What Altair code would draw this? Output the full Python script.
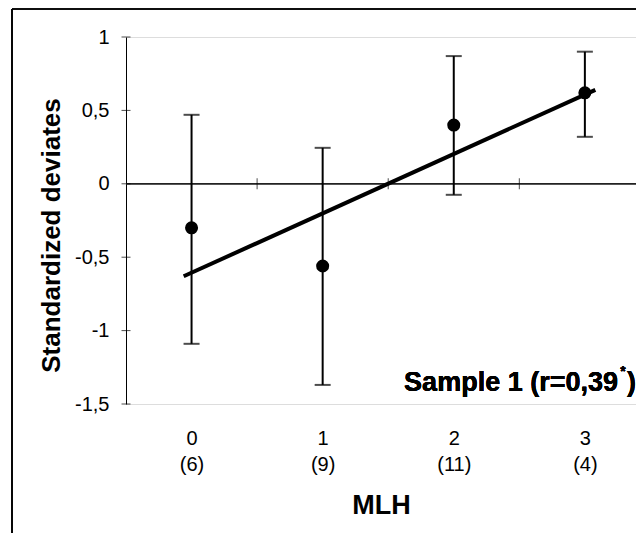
import altair as alt
import pandas as pd

# Data
mlh = [0, 1, 2, 3]
n_labels = ["(6)", "(9)", "(11)", "(4)"]
means = [-0.30, -0.56, 0.40, 0.62]
lower = [-1.09, -1.37, -0.075, 0.32]
upper = [0.47, 0.245, 0.87, 0.90]

reg_x = [-0.06, 3.08]
reg_y = [-0.63, 0.64]

y_ticks = [1, 0.5, 0, -0.5, -1, -1.5]
x_minor_ticks = [0.5, 1.5, 2.5]

X_DOMAIN = [-0.5, 3.39]
Y_DOMAIN = [-1.5, 1]
FONT = "Liberation Sans"

df = pd.DataFrame({"mlh": mlh, "mean": means, "lo": lower, "hi": upper, "n": n_labels})
reg = pd.DataFrame({"x": reg_x, "y": reg_y})
yt = pd.DataFrame({"x": [X_DOMAIN[0]] * len(y_ticks), "y": y_ticks})
xt = pd.DataFrame({"x": x_minor_ticks, "y": [0] * len(x_minor_ticks)})

n_js = "[" + ",".join("'%s'" % s for s in n_labels) + "]"

xscale = alt.Scale(domain=X_DOMAIN, nice=False, zero=False)
yscale = alt.Scale(domain=Y_DOMAIN, nice=False, zero=False)

x_axis = alt.Axis(
    values=mlh, domain=False, ticks=False, grid=False,
    labelExpr="[toString(datum.value), " + n_js + "[datum.value]]",
    labelFontSize=20, labelFont=FONT, labelColor="black", labelPadding=24,
    labelLineHeight=26,
    title="MLH", titleFont=FONT, titleFontSize=27, titleFontWeight="bold",
    titleColor="black", titlePadding=18,
)
y_axis = alt.Axis(
    values=y_ticks, ticks=False, grid=False, domainColor="black", domainWidth=1,
    labelExpr="replace(toString(datum.value), '.', ',')",
    labelFontSize=20, labelFont=FONT, labelColor="black", labelPadding=17,
    title="Standardized deviates", titleFont=FONT, titleFontSize=26,
    titleFontWeight="bold", titleColor="black", titlePadding=10, titleY=198,
)

base = alt.Chart(df)

points = base.mark_point(filled=True, color="black", size=170, opacity=1).encode(
    x=alt.X("mlh:Q", scale=xscale, axis=x_axis),
    y=alt.Y("mean:Q", scale=yscale, axis=y_axis),
)
bars = base.mark_rule(color="black", strokeWidth=2).encode(
    x="mlh:Q", y="lo:Q", y2="hi:Q"
)
cap_lo = base.mark_tick(color="black", orient="horizontal", size=16, thickness=2).encode(
    x="mlh:Q", y="lo:Q"
)
cap_hi = base.mark_tick(color="black", orient="horizontal", size=16, thickness=2).encode(
    x="mlh:Q", y="hi:Q"
)
zero_line = alt.Chart(df).mark_rule(color="#222222", strokeWidth=1).encode(
    y=alt.datum(0)
)
x_minor = alt.Chart(xt).mark_tick(color="black", orient="vertical", size=11, thickness=1).encode(
    x="x:Q", y="y:Q"
)
y_minor = alt.Chart(yt).mark_tick(color="black", orient="horizontal", size=9, thickness=1).encode(
    x="x:Q", y="y:Q"
)
line = alt.Chart(reg).mark_line(color="black", strokeWidth=4).encode(
    x="x:Q", y="y:Q"
)

txt_main = alt.Chart(df).mark_text(
    text="Sample 1 (r=0,39", font=FONT, fontSize=27, fontWeight="bold",
    align="right", baseline="middle", color="black",
).encode(x=alt.value(492), y=alt.value(346))
txt_star = alt.Chart(df).mark_text(
    text="*", font=FONT, fontSize=14, fontWeight="bold",
    align="center", baseline="middle", color="black",
).encode(x=alt.value(497), y=alt.value(335))
txt_close = alt.Chart(df).mark_text(
    text=")", font=FONT, fontSize=27, fontWeight="bold",
    align="right", baseline="middle", color="black",
).encode(x=alt.value(510), y=alt.value(346))

frame_top = alt.Chart(df).mark_rule(color="black", strokeWidth=1.2).encode(
    x=alt.value(-114), x2=alt.value(520), y=alt.value(-28)
)
frame_left = alt.Chart(df).mark_rule(color="black", strokeWidth=1.2).encode(
    x=alt.value(-114), y=alt.value(-28), y2=alt.value(500)
)

chart = alt.layer(
    frame_top, frame_left, zero_line, x_minor, y_minor, line, bars, cap_lo, cap_hi,
    points, txt_main, txt_star, txt_close,
).properties(
    width=510, height=367,
    autosize=alt.AutoSizeParams(type="none"),
    padding={"left": 118, "top": 29, "right": 0, "bottom": 129},
).configure_view(stroke=None).configure(background="white")

chart.save("out.html", embed_options={"renderer": "svg", "actions": False})
